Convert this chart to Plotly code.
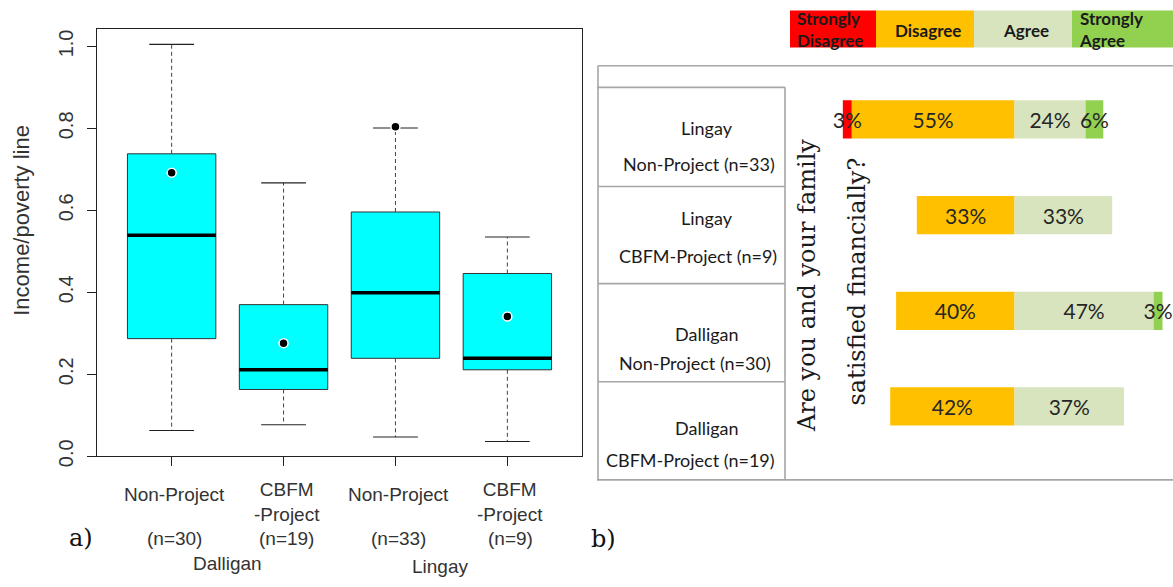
import plotly.graph_objects as go

W, H = 1173, 587

# ---------------- Panel a) data ----------------
positions = [1, 2, 3, 4]
tick_labels = ["Non-Project", "CBFM<br>-Project", "Non-Project", "CBFM<br>-Project"]
n_labels = ["(n=30)", "(n=19)", "(n=33)", "(n=9)"]
site_labels = ["Dalligan", "Lingay"]
site_positions = [1.5, 3.4]
box_lower = [0.063, 0.077, 0.047, 0.036]
box_q1 = [0.287, 0.163, 0.239, 0.211]
box_median = [0.539, 0.211, 0.399, 0.239]
box_q3 = [0.738, 0.370, 0.596, 0.446]
box_upper = [1.005, 0.667, 0.801, 0.535]
box_mean = [0.692, 0.276, 0.804, 0.341]
y_ticks = [0.0, 0.2, 0.4, 0.6, 0.8, 1.0]
y_title = "Income/poverty line"

# ---------------- Panel b) data ----------------
row_site = ["Lingay", "Lingay", "Dalligan", "Dalligan"]
row_group = ["Non-Project (n=33)", "CBFM-Project (n=9)", "Non-Project (n=30)", "CBFM-Project (n=19)"]
strongly_disagree = [3, 0, 0, 0]
disagree = [55, 33, 40, 42]
agree = [24, 33, 47, 37]
strongly_agree = [6, 0, 3, 0]
legend_labels = ["Strongly<br>Disagree", "Disagree", "Agree", "Strongly<br>Agree"]
question_lines = ["Are you and your family", "satisfied financially?"]

# ---------------- styles ----------------
C_SD, C_D, C_A, C_SA = "#FF0000", "#FFC000", "#D7E4BD", "#92D050"
SANS = "Liberation Sans, Arial, sans-serif"
CAL = "Lato, Carlito, sans-serif"
SERIF = "DejaVu Serif, serif"
TXT = "#333333"


def px(x):
    return x / W


def py(y):
    return 1 - y / H


def text_ann(x, y, text, font, xref="paper", xanchor="center", align="center", textangle=0, xshift=0):
    return dict(x=x, y=y, xref=xref, yref="paper", text=text, showarrow=False,
                xanchor=xanchor, yanchor="middle", align=align, textangle=textangle,
                xshift=xshift, font=font)


fig = go.Figure()

# ---- box plot (panel a) ----
BW = 0.79
fig.add_trace(go.Box(
    x=positions, q1=box_q1, median=box_median, q3=box_q3,
    lowerfence=box_q1, upperfence=box_q3,
    width=BW, fillcolor="#00FFFF", line=dict(color="#333333", width=1),
    boxpoints=False, whiskerwidth=0, xaxis="x", yaxis="y", hoverinfo="skip",
))

wx, wy = [], []
for p, lo, q1, q3, hi in zip(positions, box_lower, box_q1, box_q3, box_upper):
    wx += [p, p, None, p, p, None]
    wy += [q3, hi, None, q1, lo, None]
fig.add_trace(go.Scatter(x=wx, y=wy, mode="lines",
                         line=dict(color="#444444", width=1, dash="4px,3px"),
                         xaxis="x", yaxis="y", hoverinfo="skip"))

cx, cy = [], []
for p, lo, hi in zip(positions, box_lower, box_upper):
    cx += [p - 0.2, p + 0.2, None, p - 0.2, p + 0.2, None]
    cy += [hi, hi, None, lo, lo, None]
fig.add_trace(go.Scatter(x=cx, y=cy, mode="lines",
                         line=dict(color="#222222", width=1.1),
                         xaxis="x", yaxis="y", hoverinfo="skip"))

mx, my = [], []
for p, m in zip(positions, box_median):
    mx += [p - BW / 2, p + BW / 2, None]
    my += [m, m, None]
fig.add_trace(go.Scatter(x=mx, y=my, mode="lines",
                         line=dict(color="#000000", width=3.5),
                         xaxis="x", yaxis="y", hoverinfo="skip"))

fig.add_trace(go.Scatter(x=positions, y=box_mean, mode="markers",
                         marker=dict(color="#000000", size=9, line=dict(color="white", width=1.5)),
                         xaxis="x", yaxis="y", hoverinfo="skip"))

# ---- diverging bars (panel b) ----
rows = list(range(len(row_site)))


def labels(vals):
    return [f"{v}%" if v else "" for v in vals]


bar_series = [
    ([-v for v in disagree], labels(disagree), C_D),
    ([-v for v in strongly_disagree], labels(strongly_disagree), C_SD),
    (agree, labels(agree), C_A),
    (strongly_agree, labels(strongly_agree), C_SA),
]
for vals, txt, col in bar_series:
    fig.add_trace(go.Bar(
        x=vals, y=rows, orientation="h", width=0.4,
        marker=dict(color=col, line=dict(width=0)),
        text=txt, textposition="inside", insidetextanchor="middle",
        textangle=0, constraintext="none",
        textfont=dict(family=CAL, size=21, color="#262626"),
        xaxis="x2", yaxis="y2", hoverinfo="skip", cliponaxis=False,
    ))

# ---------------- layout ----------------
Y_BOT, Y_TOP = 465, 30
PX_PER_UNIT = 417.7
fig.update_layout(
    width=W, height=H, margin=dict(l=0, r=0, t=0, b=0),
    paper_bgcolor="white", plot_bgcolor="rgba(0,0,0,0)",
    showlegend=False, barmode="relative",
    xaxis=dict(domain=[px(97), px(582)], range=[1 - 0.667, 4 + 0.667],
               showline=True, mirror=True, linecolor="#222222", linewidth=1.3,
               showgrid=False, zeroline=False, ticks="outside", ticklen=9,
               tickcolor="#222222", tickvals=positions, showticklabels=False),
    yaxis=dict(domain=[py(Y_BOT), py(Y_TOP)], range=[0, (Y_BOT - Y_TOP) / PX_PER_UNIT],
               showline=True, mirror=True, linecolor="#222222", linewidth=1.3,
               showgrid=False, zeroline=False, ticks="outside", ticklen=9,
               tickcolor="#222222", tickvals=y_ticks,
               ticktext=[f"{t:.1f}" for t in y_ticks], tickangle=-90,
               ticklabelstandoff=6,
               tickfont=dict(family=SANS, size=20, color=TXT)),
    xaxis2=dict(domain=[px(785), 1.0], range=[-(1014.5 - 785) / 2.96, (1173 - 1014.5) / 2.96],
                visible=False, fixedrange=True),
    yaxis2=dict(domain=[py(463), py(73)], range=[3.5, -0.5], visible=False,
                anchor="x2"),
)

XF = dict(family=SANS, size=19, color=TXT)
ann = []
# x tick labels (panel a)
for p, lab, n in zip(positions, tick_labels, n_labels):
    yc = 504 if "<br>" not in lab else 512
    ann.append(text_ann(p, py(yc), lab, XF, xref="x", xshift=3))
    ann.append(text_ann(p, py(549), n, XF, xref="x", xshift=3))
for s, sp, yy in zip(site_labels, site_positions, [574, 577.5]):
    ann.append(text_ann(sp, py(yy), s, XF, xref="x"))
ann.append(text_ann(px(22), py(225), y_title, dict(family=SANS, size=22, color=TXT), textangle=-90))
ann.append(text_ann(px(81), py(548), "a)", dict(family=SERIF, size=24, color="#111111")))
ann.append(text_ann(px(603), py(549), "b)", dict(family=SERIF, size=24, color="#111111")))

# table row labels (panel b)
RF = dict(family=CAL, size=18, color="#1a1a1a")
row_y1 = [130, 222, 340, 436]
row_y2 = [167, 261, 370, 469]
row_x1 = [707, 707, 707, 707]
row_x2 = [699, 698, 695, 690]
for s, g, y1, y2, x1, x2 in zip(row_site, row_group, row_y1, row_y2, row_x1, row_x2):
    ann.append(text_ann(px(x1), py(y1), s, RF))
    ann.append(text_ann(px(x2), py(y2), g, RF))

# question (rotated)
for q, xq, yq in zip(question_lines, [807, 857], [291.5, 287]):
    ann.append(text_ann(px(xq), py(yq), q, dict(family=SERIF, size=24, color="#1a1a1a"), textangle=-90))

# legend boxes
shapes = []
LF = dict(family=CAL, size=17, color="#1a1a1a")
leg_edges = [790, 876, 974, 1072, 1178]
leg_colors = [C_SD, C_D, C_A, C_SA]
for i, (lab, col) in enumerate(zip(legend_labels, leg_colors)):
    x0, x1 = leg_edges[i], leg_edges[i + 1]
    shapes.append(dict(type="rect", xref="paper", yref="paper", x0=px(x0), x1=px(x1),
                       y0=py(48.3), y1=py(10.7), fillcolor=col, line=dict(width=0), layer="below"))
    bold = "<br>".join("<b>" + part + "</b>" for part in lab.split("<br>"))
    if "<br>" in lab:
        ann.append(text_ann(px(x0 + 5), py(30.5), bold, LF, xanchor="left", align="left"))
    else:
        ann.append(text_ann(px((x0 + x1) / 2 + 3), py(31), bold, LF))

# table lines
LC = "#A6A6A6"
table_rows = [89, 190, 289, 389, 489]


def line(x0, y0, x1, y1):
    shapes.append(dict(type="line", xref="paper", yref="paper", x0=px(x0), y0=py(y0),
                       x1=px(x1), y1=py(y1), line=dict(color=LC, width=1.6)))


line(598, 67, 1173, 67)
line(598, 67, 598, 489)
line(597, 89, 785, 89)
line(785, 89, 785, 489)
for yr in table_rows[1:-1]:
    line(598, yr, 785, yr)
line(597, 489, 1173, 489)

fig.update_layout(annotations=ann, shapes=shapes)
fig.write_html("out.html")
